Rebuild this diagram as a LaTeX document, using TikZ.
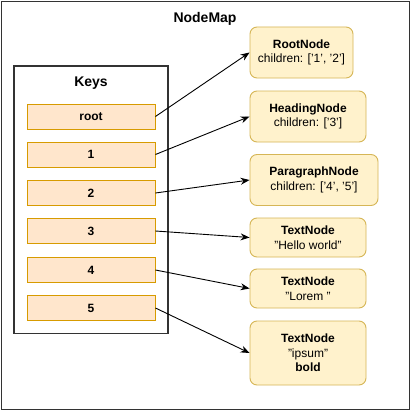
\documentclass[tikz,border=0pt]{standalone}
\usepackage{fontspec}
\setmainfont{Liberation Sans}
\usetikzlibrary{arrows.meta}
\definecolor{keyfill}{HTML}{FFE6CC}
\definecolor{keydraw}{HTML}{D79B00}
\definecolor{nodefill}{HTML}{FFF2CC}
\definecolor{nodedraw}{HTML}{D6B656}
\definecolor{frame}{HTML}{333333}
\tikzset{
  keybox/.style={draw=keydraw, fill=keyfill, line width=0.9pt, minimum width=128pt, minimum height=25pt, inner sep=0pt, font=\fontsize{12}{14}\selectfont\bfseries},
  mapbox/.style={draw=nodedraw, fill=nodefill, line width=0.9pt, rounded corners=7pt, inner sep=0pt, align=center, font=\fontsize{12}{14.5}\selectfont},
  link/.style={-{Stealth[length=9pt,width=7pt,inset=3pt]}, line width=0.9pt, black},
}
\begin{document}
\begin{tikzpicture}[x=1pt,y=-1pt]
\useasboundingbox (0,0) rectangle (411,412);
\draw[frame, line width=1.4pt, fill=white] (1.5,1.5) rectangle (409.5,409.5);
\node[font=\fontsize{14}{16}\selectfont\bfseries] (title) at (205,19) {NodeMap};
\draw[frame, line width=1.2pt] (14,66) rectangle (168,333.5);
\node[font=\fontsize{14}{16}\selectfont\bfseries] (keys) at (91,83) {Keys};
\node[keybox] (kroot) at (91,116.5) {root};
\node[keybox] (k1) at (91,154.5) {1};
\node[keybox] (k2) at (91,193) {2};
\node[keybox] (k3) at (91,231) {3};
\node[keybox] (k4) at (91,270) {4};
\node[keybox] (k5) at (91,308) {5};
\node[mapbox, minimum width=103pt, minimum height=51pt] (nroot) at (301.5,52.5) {\textbf{RootNode}\\children: ['1', '2']};
\node[mapbox, minimum width=116pt, minimum height=51pt] (nhead) at (308,116.5) {\textbf{HeadingNode}\\children: ['3']};
\node[mapbox, minimum width=128pt, minimum height=51pt] (npara) at (314,180) {\textbf{ParagraphNode}\\children: ['4', '5']};
\node[mapbox, minimum width=116pt, minimum height=39pt] (nhello) at (308,237.5) {\textbf{TextNode}\\"Hello world"};
\node[mapbox, minimum width=116pt, minimum height=39pt] (nlorem) at (308,288.5) {\textbf{TextNode}\\"Lorem "};
\node[mapbox, minimum width=116pt, minimum height=64pt] (nipsum) at (308,353) {\textbf{TextNode}\\"ipsum"\\\textbf{bold}};
\draw[link] (kroot.east) -- (nroot.west);
\draw[link] (k1.east) -- (nhead.west);
\draw[link] (k2.east) -- (npara.west);
\draw[link] (k3.east) -- (nhello.west);
\draw[link] (k4.east) -- (nlorem.west);
\draw[link] (k5.east) -- (nipsum.west);
\end{tikzpicture}
\end{document}
